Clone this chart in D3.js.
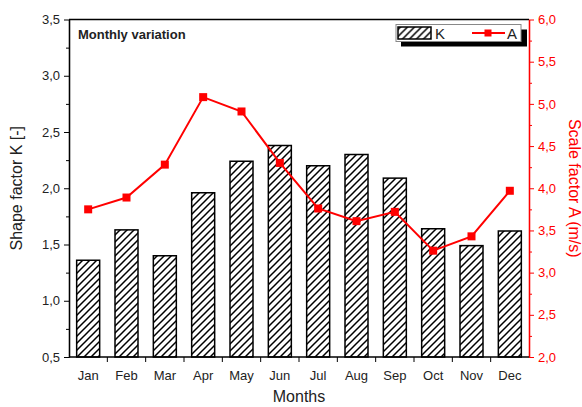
<!DOCTYPE html>
<html>
<head>
<meta charset="utf-8">
<script src="https://cdn.jsdelivr.net/npm/d3@7"></script>
<style>
  body { margin: 0; background: #fff; }
  text { font-family: "Liberation Sans", Arial, sans-serif; }
</style>
</head>
<body>
<div id="chart"></div>
<script>
// monthly Weibull parameters
var months = ["Jan","Feb","Mar","Apr","May","Jun","Jul","Aug","Sep","Oct","Nov","Dec"];
var shapeK = [1.36, 1.63, 1.40, 1.96, 2.24, 2.38, 2.20, 2.30, 2.09, 1.64, 1.49, 1.62];
var scaleA = [3.75, 3.89, 4.28, 5.08, 4.91, 4.30, 3.76, 3.61, 3.72, 3.26, 3.43, 3.97];
var kTicks = [0.5, 1.0, 1.5, 2.0, 2.5, 3.0, 3.5];
var aTicks = [2.0, 2.5, 3.0, 3.5, 4.0, 4.5, 5.0, 5.5, 6.0];

var width = 582, height = 407,
    margin = {top: 19.5, right: 53, bottom: 50, left: 69};
var red = "#ff0000";
var comma = function(d) { return d3.format(".1f")(d).replace(".", ","); };

var svg = d3.select("#chart").append("svg")
  .attr("width", width)
  .attr("height", height);

var defs = svg.append("defs");
var pat = defs.append("pattern")
  .attr("id", "hatch")
  .attr("patternUnits", "userSpaceOnUse")
  .attr("width", 7).attr("height", 7);
pat.append("rect").attr("width", 7).attr("height", 7).attr("fill", "#fff");
pat.append("path")
  .attr("d", "M-1,8 L8,-1 M-4.5,4.5 L4.5,-4.5 M2.5,11.5 L11.5,2.5")
  .attr("stroke", "#000").attr("stroke-width", 1.5);

var x = d3.scaleBand()
  .domain(months)
  .range([margin.left, width - margin.right])
  .paddingInner(0.4).paddingOuter(0.2);

var yK = d3.scaleLinear()
  .domain([0.5, 3.5])
  .range([height - margin.bottom, margin.top]);

var yA = d3.scaleLinear()
  .domain([2.0, 6.0])
  .range([height - margin.bottom, margin.top]);

// bars for K
svg.append("g").selectAll("rect")
  .data(shapeK)
  .enter().append("rect")
    .attr("x", function(d, i) { return x(months[i]); })
    .attr("width", x.bandwidth())
    .attr("y", function(d) { return yK(d); })
    .attr("height", function(d) { return yK(0.5) - yK(d); })
    .attr("fill", "url(#hatch)")
    .attr("stroke", "#000")
    .attr("stroke-width", 1.5);

// line for A
var line = d3.line()
  .x(function(d, i) { return x(months[i]) + x.bandwidth() / 2; })
  .y(function(d) { return yA(d); });

svg.append("path")
  .datum(scaleA)
  .attr("d", line)
  .attr("fill", "none")
  .attr("stroke", red)
  .attr("stroke-width", 2);

svg.append("g").selectAll("rect")
  .data(scaleA)
  .enter().append("rect")
    .attr("x", function(d, i) { return x(months[i]) + x.bandwidth() / 2 - 4; })
    .attr("y", function(d) { return yA(d) - 4; })
    .attr("width", 8).attr("height", 8)
    .attr("fill", red);

// frame top line
svg.append("line")
  .attr("x1", margin.left).attr("x2", width - margin.right)
  .attr("y1", margin.top).attr("y2", margin.top)
  .attr("stroke", "#000").attr("stroke-width", 1.3);

// left axis
var gL = svg.append("g").attr("transform", "translate(" + margin.left + ",0)");
gL.call(d3.axisLeft(yK).tickValues(kTicks).tickFormat(comma).tickSize(5).tickSizeOuter(0));
gL.append("g").call(d3.axisLeft(yK).tickValues(kTicks.slice(0, -1).map(function(d) { return d + 0.25; }))
  .tickFormat("").tickSize(3).tickSizeOuter(0));
gL.selectAll(".domain").attr("stroke", "#000").attr("stroke-width", 1.3);
gL.selectAll("text").attr("font-size", 13).attr("fill", "#222").attr("dx", -1);

// right axis
var gR = svg.append("g").attr("transform", "translate(" + (width - margin.right) + ",0)");
gR.call(d3.axisRight(yA).tickValues(aTicks).tickFormat(comma).tickSize(5).tickSizeOuter(0));
gR.append("g").call(d3.axisRight(yA).tickValues(aTicks.slice(0, -1).map(function(d) { return d + 0.25; }))
  .tickFormat("").tickSize(3).tickSizeOuter(0));
gR.selectAll(".domain").attr("stroke", red).attr("stroke-width", 1.3);
gR.selectAll("line").attr("stroke", red);
gR.selectAll("text").attr("font-size", 13).attr("fill", red).attr("dx", 1);

// bottom axis, ticks between months
var gB = svg.append("g").attr("transform", "translate(0," + (height - margin.bottom) + ")");
gB.append("line")
  .attr("x1", margin.left).attr("x2", width - margin.right)
  .attr("stroke", "#000").attr("stroke-width", 1.3);
var step = x.step();
gB.selectAll(".tk")
  .data(months.slice(1))
  .enter().append("line")
    .attr("class", "tk")
    .attr("x1", function(d) { return x(d) - step * 0.2; })
    .attr("x2", function(d) { return x(d) - step * 0.2; })
    .attr("y1", 0).attr("y2", 5)
    .attr("stroke", "#000");
gB.selectAll(".lbl")
  .data(months)
  .enter().append("text")
    .attr("class", "lbl")
    .attr("x", function(d) { return x(d) + x.bandwidth() / 2; })
    .attr("y", 23)
    .attr("text-anchor", "middle")
    .attr("font-size", 13)
    .attr("fill", "#222")
    .text(function(d) { return d; });

// axis titles
svg.append("text")
  .attr("transform", "translate(22," + ((yK(0.5) + yK(3.5)) / 2) + ") rotate(-90)")
  .attr("text-anchor", "middle")
  .attr("font-size", 16)
  .attr("fill", "#222")
  .text("Shape factor K [-]");

svg.append("text")
  .attr("transform", "translate(569," + ((yA(2) + yA(6)) / 2) + ") rotate(90)")
  .attr("text-anchor", "middle")
  .attr("font-size", 16)
  .attr("fill", red)
  .text("Scale factor A (m/s)");

svg.append("text")
  .attr("x", (margin.left + width - margin.right) / 2)
  .attr("y", 402)
  .attr("text-anchor", "middle")
  .attr("font-size", 16)
  .attr("fill", "#222")
  .text("Months");

svg.append("text")
  .attr("x", 78).attr("y", 39)
  .attr("font-size", 13)
  .attr("font-weight", "bold")
  .attr("fill", "#222")
  .text("Monthly variation");

// legend
var lg = svg.append("g").attr("transform", "translate(396,24.5)");
lg.append("rect").attr("x", 5).attr("y", 5).attr("width", 126).attr("height", 17).attr("fill", "#000");
lg.append("rect").attr("width", 125).attr("height", 17)
  .attr("fill", "#fff").attr("stroke", "#888").attr("stroke-width", 1);
lg.append("rect").attr("x", 2).attr("y", 2.5).attr("width", 33).attr("height", 12)
  .attr("fill", "url(#hatch)").attr("stroke", "#000").attr("stroke-width", 1.5);
lg.append("text").attr("x", 39).attr("y", 14).attr("font-size", 15).attr("fill", "#222").text("K");
lg.append("line").attr("x1", 76).attr("x2", 109).attr("y1", 8.5).attr("y2", 8.5)
  .attr("stroke", red).attr("stroke-width", 2);
lg.append("rect").attr("x", 88.5).attr("y", 5).attr("width", 7).attr("height", 7).attr("fill", red);
lg.append("text").attr("x", 111).attr("y", 14).attr("font-size", 15).attr("fill", "#222").text("A");
</script>
</body>
</html>
